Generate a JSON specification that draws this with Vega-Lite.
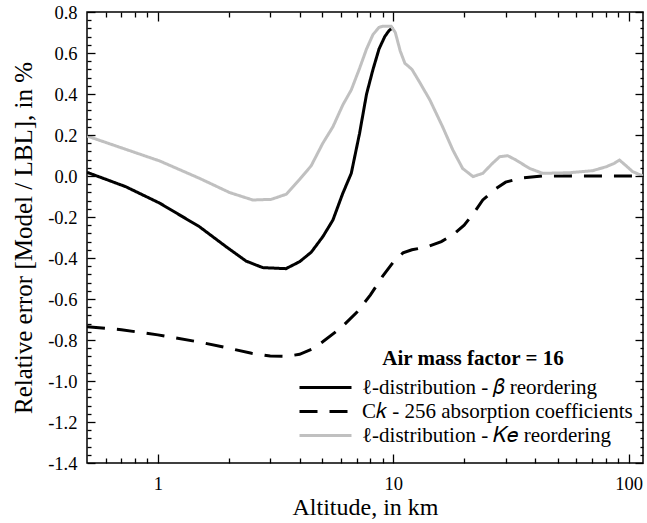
{
  "$schema": "https://vega.github.io/schema/vega-lite/v6.json",
  "width": 556,
  "height": 451,
  "autosize": {"type": "none"},
  "padding": {"left": 87, "top": 12, "right": 4, "bottom": 60},
  "background": "white",
  "config": {
    "font": "Liberation Serif",
    "view": {"stroke": "black", "strokeWidth": 1.5, "fill": "transparent"},
    "axis": {
      "domain": false, "grid": false, "tickColor": "black", "tickWidth": 1.3, "tickOpacity": 1,
      "labelColor": "black", "titleColor": "black", "labelFont": "Liberation Serif", "titleFont": "Liberation Serif",
      "titleFontWeight": "normal", "labelFontSize": 18.5, "titleFontSize": 24,
      "labelOverlap": false, "labelFlush": false
    }
  },
  "data": {"values": [
    {"series": "ℓ-distribution - 𝛽 reordering", "alt": 0.5, "err": 0.018},
    {"series": "ℓ-distribution - 𝛽 reordering", "alt": 0.73, "err": -0.052},
    {"series": "ℓ-distribution - 𝛽 reordering", "alt": 1.02, "err": -0.133},
    {"series": "ℓ-distribution - 𝛽 reordering", "alt": 1.5, "err": -0.247},
    {"series": "ℓ-distribution - 𝛽 reordering", "alt": 1.95, "err": -0.345},
    {"series": "ℓ-distribution - 𝛽 reordering", "alt": 2.37, "err": -0.415},
    {"series": "ℓ-distribution - 𝛽 reordering", "alt": 2.79, "err": -0.447},
    {"series": "ℓ-distribution - 𝛽 reordering", "alt": 3.5, "err": -0.452},
    {"series": "ℓ-distribution - 𝛽 reordering", "alt": 4.0, "err": -0.418},
    {"series": "ℓ-distribution - 𝛽 reordering", "alt": 4.48, "err": -0.372},
    {"series": "ℓ-distribution - 𝛽 reordering", "alt": 5.02, "err": -0.296},
    {"series": "ℓ-distribution - 𝛽 reordering", "alt": 5.54, "err": -0.215},
    {"series": "ℓ-distribution - 𝛽 reordering", "alt": 6.1, "err": -0.085},
    {"series": "ℓ-distribution - 𝛽 reordering", "alt": 6.63, "err": 0.013},
    {"series": "ℓ-distribution - 𝛽 reordering", "alt": 7.19, "err": 0.208},
    {"series": "ℓ-distribution - 𝛽 reordering", "alt": 7.7, "err": 0.4},
    {"series": "ℓ-distribution - 𝛽 reordering", "alt": 8.2, "err": 0.52},
    {"series": "ℓ-distribution - 𝛽 reordering", "alt": 8.7, "err": 0.62},
    {"series": "ℓ-distribution - 𝛽 reordering", "alt": 9.2, "err": 0.68},
    {"series": "ℓ-distribution - 𝛽 reordering", "alt": 9.6, "err": 0.71},
    {"series": "ℓ-distribution - 𝛽 reordering", "alt": 10.0, "err": 0.725},
    {"series": "C𝑘 - 256 absorption coefficients", "alt": 0.5, "err": -0.735},
    {"series": "C𝑘 - 256 absorption coefficients", "alt": 0.7, "err": -0.75},
    {"series": "C𝑘 - 256 absorption coefficients", "alt": 1.0, "err": -0.775},
    {"series": "C𝑘 - 256 absorption coefficients", "alt": 1.5, "err": -0.81},
    {"series": "C𝑘 - 256 absorption coefficients", "alt": 2.0, "err": -0.84},
    {"series": "C𝑘 - 256 absorption coefficients", "alt": 2.5, "err": -0.865},
    {"series": "C𝑘 - 256 absorption coefficients", "alt": 3.0, "err": -0.878},
    {"series": "C𝑘 - 256 absorption coefficients", "alt": 3.5, "err": -0.88},
    {"series": "C𝑘 - 256 absorption coefficients", "alt": 4.0, "err": -0.87},
    {"series": "C𝑘 - 256 absorption coefficients", "alt": 4.5, "err": -0.845},
    {"series": "C𝑘 - 256 absorption coefficients", "alt": 5.0, "err": -0.81},
    {"series": "C𝑘 - 256 absorption coefficients", "alt": 6.0, "err": -0.74},
    {"series": "C𝑘 - 256 absorption coefficients", "alt": 7.0, "err": -0.665},
    {"series": "C𝑘 - 256 absorption coefficients", "alt": 8.0, "err": -0.58},
    {"series": "C𝑘 - 256 absorption coefficients", "alt": 9.0, "err": -0.49},
    {"series": "C𝑘 - 256 absorption coefficients", "alt": 10.0, "err": -0.42},
    {"series": "C𝑘 - 256 absorption coefficients", "alt": 11.0, "err": -0.375},
    {"series": "C𝑘 - 256 absorption coefficients", "alt": 12.0, "err": -0.36},
    {"series": "C𝑘 - 256 absorption coefficients", "alt": 14.0, "err": -0.345},
    {"series": "C𝑘 - 256 absorption coefficients", "alt": 16.0, "err": -0.32},
    {"series": "C𝑘 - 256 absorption coefficients", "alt": 18.0, "err": -0.285},
    {"series": "C𝑘 - 256 absorption coefficients", "alt": 20.0, "err": -0.24},
    {"series": "C𝑘 - 256 absorption coefficients", "alt": 22.0, "err": -0.18},
    {"series": "C𝑘 - 256 absorption coefficients", "alt": 24.0, "err": -0.117},
    {"series": "C𝑘 - 256 absorption coefficients", "alt": 27.0, "err": -0.065},
    {"series": "C𝑘 - 256 absorption coefficients", "alt": 30.0, "err": -0.03},
    {"series": "C𝑘 - 256 absorption coefficients", "alt": 35.0, "err": -0.01},
    {"series": "C𝑘 - 256 absorption coefficients", "alt": 43.0, "err": 0.0},
    {"series": "C𝑘 - 256 absorption coefficients", "alt": 60.0, "err": 0.0},
    {"series": "C𝑘 - 256 absorption coefficients", "alt": 115.0, "err": 0.0},
    {"series": "ℓ-distribution - 𝐾𝑒 reordering", "alt": 0.5, "err": 0.195},
    {"series": "ℓ-distribution - 𝐾𝑒 reordering", "alt": 1.02, "err": 0.073},
    {"series": "ℓ-distribution - 𝐾𝑒 reordering", "alt": 1.5, "err": -0.011},
    {"series": "ℓ-distribution - 𝐾𝑒 reordering", "alt": 2.02, "err": -0.081},
    {"series": "ℓ-distribution - 𝐾𝑒 reordering", "alt": 2.53, "err": -0.117},
    {"series": "ℓ-distribution - 𝐾𝑒 reordering", "alt": 3.03, "err": -0.114},
    {"series": "ℓ-distribution - 𝐾𝑒 reordering", "alt": 3.51, "err": -0.089},
    {"series": "ℓ-distribution - 𝐾𝑒 reordering", "alt": 4.0, "err": -0.017},
    {"series": "ℓ-distribution - 𝐾𝑒 reordering", "alt": 4.48, "err": 0.05},
    {"series": "ℓ-distribution - 𝐾𝑒 reordering", "alt": 5.02, "err": 0.16},
    {"series": "ℓ-distribution - 𝐾𝑒 reordering", "alt": 5.54, "err": 0.24},
    {"series": "ℓ-distribution - 𝐾𝑒 reordering", "alt": 6.1, "err": 0.346},
    {"series": "ℓ-distribution - 𝐾𝑒 reordering", "alt": 6.63, "err": 0.42},
    {"series": "ℓ-distribution - 𝐾𝑒 reordering", "alt": 7.19, "err": 0.525},
    {"series": "ℓ-distribution - 𝐾𝑒 reordering", "alt": 7.7, "err": 0.62},
    {"series": "ℓ-distribution - 𝐾𝑒 reordering", "alt": 8.2, "err": 0.69},
    {"series": "ℓ-distribution - 𝐾𝑒 reordering", "alt": 8.7, "err": 0.725},
    {"series": "ℓ-distribution - 𝐾𝑒 reordering", "alt": 9.0, "err": 0.73},
    {"series": "ℓ-distribution - 𝐾𝑒 reordering", "alt": 9.8, "err": 0.73},
    {"series": "ℓ-distribution - 𝐾𝑒 reordering", "alt": 10.2, "err": 0.7},
    {"series": "ℓ-distribution - 𝐾𝑒 reordering", "alt": 10.7, "err": 0.61},
    {"series": "ℓ-distribution - 𝐾𝑒 reordering", "alt": 11.2, "err": 0.55},
    {"series": "ℓ-distribution - 𝐾𝑒 reordering", "alt": 12.0, "err": 0.52},
    {"series": "ℓ-distribution - 𝐾𝑒 reordering", "alt": 12.9, "err": 0.46},
    {"series": "ℓ-distribution - 𝐾𝑒 reordering", "alt": 14.3, "err": 0.371},
    {"series": "ℓ-distribution - 𝐾𝑒 reordering", "alt": 16.2, "err": 0.24},
    {"series": "ℓ-distribution - 𝐾𝑒 reordering", "alt": 17.9, "err": 0.127},
    {"series": "ℓ-distribution - 𝐾𝑒 reordering", "alt": 19.7, "err": 0.037},
    {"series": "ℓ-distribution - 𝐾𝑒 reordering", "alt": 21.8, "err": -0.003},
    {"series": "ℓ-distribution - 𝐾𝑒 reordering", "alt": 24.0, "err": 0.013},
    {"series": "ℓ-distribution - 𝐾𝑒 reordering", "alt": 26.4, "err": 0.062},
    {"series": "ℓ-distribution - 𝐾𝑒 reordering", "alt": 28.3, "err": 0.094},
    {"series": "ℓ-distribution - 𝐾𝑒 reordering", "alt": 30.6, "err": 0.099},
    {"series": "ℓ-distribution - 𝐾𝑒 reordering", "alt": 33.2, "err": 0.078},
    {"series": "ℓ-distribution - 𝐾𝑒 reordering", "alt": 37.9, "err": 0.037},
    {"series": "ℓ-distribution - 𝐾𝑒 reordering", "alt": 43.1, "err": 0.013},
    {"series": "ℓ-distribution - 𝐾𝑒 reordering", "alt": 56.0, "err": 0.016},
    {"series": "ℓ-distribution - 𝐾𝑒 reordering", "alt": 70.3, "err": 0.026},
    {"series": "ℓ-distribution - 𝐾𝑒 reordering", "alt": 80.2, "err": 0.045},
    {"series": "ℓ-distribution - 𝐾𝑒 reordering", "alt": 86.9, "err": 0.062},
    {"series": "ℓ-distribution - 𝐾𝑒 reordering", "alt": 91.3, "err": 0.078},
    {"series": "ℓ-distribution - 𝐾𝑒 reordering", "alt": 95.9, "err": 0.057},
    {"series": "ℓ-distribution - 𝐾𝑒 reordering", "alt": 104.0, "err": 0.021},
    {"series": "ℓ-distribution - 𝐾𝑒 reordering", "alt": 115.0, "err": 0.0}
  ]},
  "layer": [
    {
      "mark": {"type": "line", "strokeWidth": 3, "clip": true},
      "encoding": {
        "x": {"field": "alt", "type": "quantitative",
          "scale": {"type": "log", "domain": [0.5, 115], "nice": false},
          "axis": {"orient": "bottom", "title": "Altitude, in km", "values": [1, 10, 100], "format": "d",
            "ticks": true, "tickSize": -9, "tickColor": "black", "tickWidth": 1.3, "tickOpacity": 1, "zindex": 1,
            "labelPadding": 20, "titlePadding": 3}},
        "y": {"field": "err", "type": "quantitative",
          "scale": {"domain": [-1.4, 0.8], "nice": false, "zero": false},
          "axis": {"orient": "left", "title": "Relative error [Model / LBL], in %", "titleFontSize": 25,
            "values": [-1.4, -1.2, -1.0, -0.8, -0.6, -0.4, -0.2, 0, 0.2, 0.4, 0.6, 0.8],
            "labelExpr": "(datum.value < -0.000001 ? '-' : '') + format(abs(datum.value), '.1f')",
            "ticks": true, "tickSize": -8, "tickColor": "black", "tickWidth": 1.3, "tickOpacity": 1, "zindex": 1,
            "labelPadding": 18, "titlePadding": 11}},
        "color": {"field": "series", "type": "nominal",
          "scale": {"domain": ["ℓ-distribution - 𝛽 reordering", "C𝑘 - 256 absorption coefficients", "ℓ-distribution - 𝐾𝑒 reordering"], "range": ["#000000", "#000000", "#c0c0c0"]},
          "legend": {"title": "Air mass factor = 16", "orient": "none", "legendX": 227, "legendY": 336, "padding": 0,
            "symbolType": "M-2.6,0H2.6", "symbolSize": 400, "symbolStrokeWidth": 3,
            "labelFontSize": 21, "titleFontSize": 21, "titleFontWeight": "bold", "titleAnchor": "middle",
            "labelFont": "Liberation Serif", "titleFont": "Liberation Serif", "labelColor": "black", "titleColor": "black",
            "labelOffset": 25, "rowPadding": 2, "titlePadding": 7, "labelLimit": 400, "titleLimit": 400}},
        "strokeDash": {"field": "series", "type": "nominal",
          "scale": {"domain": ["ℓ-distribution - 𝛽 reordering", "C𝑘 - 256 absorption coefficients", "ℓ-distribution - 𝐾𝑒 reordering"], "range": [[1, 0], [18, 12], [1, 0]]},
          "legend": {"title": "Air mass factor = 16", "orient": "none", "legendX": 227, "legendY": 336, "padding": 0,
            "symbolType": "M-2.6,0H2.6", "symbolSize": 400, "symbolStrokeWidth": 3,
            "labelFontSize": 21, "titleFontSize": 21, "titleFontWeight": "bold", "titleAnchor": "middle",
            "labelFont": "Liberation Serif", "titleFont": "Liberation Serif", "labelColor": "black", "titleColor": "black",
            "labelOffset": 25, "rowPadding": 2, "titlePadding": 7, "labelLimit": 400, "titleLimit": 400}}
      }
    },
    {
      "mark": {"type": "point", "opacity": 0},
      "encoding": {
        "x": {"field": "alt", "type": "quantitative",
          "scale": {"type": "log", "domain": [0.5, 115], "nice": false},
          "axis": {"orient": "bottom", "title": null, "labels": false,
            "ticks": true, "tickSize": -5, "tickColor": "black", "tickWidth": 1.3, "tickOpacity": 1, "zindex": 1,
            "values": [0.6, 0.7, 0.8, 0.9, 2, 3, 4, 5, 6, 7, 8, 9, 20, 30, 40, 50, 60, 70, 80, 90]}},
        "y": {"field": "err", "type": "quantitative",
          "scale": {"domain": [-1.4, 0.8], "nice": false, "zero": false},
          "axis": {"orient": "left", "title": null, "labels": false,
            "ticks": true, "tickSize": -4, "tickColor": "black", "tickWidth": 1.3, "tickOpacity": 1, "zindex": 1,
            "values": [-1.36,-1.32,-1.28,-1.24,-1.16,-1.12,-1.08,-1.04,-0.96,-0.92,-0.88,-0.84,-0.76,-0.72,-0.68,-0.64,-0.56,-0.52,-0.48,-0.44,-0.36,-0.32,-0.28,-0.24,-0.16,-0.12,-0.08,-0.04,0.04,0.08,0.12,0.16,0.24,0.28,0.32,0.36,0.44,0.48,0.52,0.56,0.64,0.68,0.72,0.76]}}
      }
    },
    {
      "mark": {"type": "point", "opacity": 0},
      "encoding": {
        "x": {"field": "alt", "type": "quantitative",
          "scale": {"type": "log", "domain": [0.5, 115], "nice": false},
          "axis": {"orient": "top", "title": null, "labels": false,
            "ticks": true, "tickSize": -9, "tickColor": "black", "tickWidth": 1.3, "tickOpacity": 1, "zindex": 1,
            "values": [1, 10, 100]}},
        "y": {"field": "err", "type": "quantitative",
          "scale": {"domain": [-1.4, 0.8], "nice": false, "zero": false},
          "axis": {"orient": "right", "title": null, "labels": false,
            "ticks": true, "tickSize": -8, "tickColor": "black", "tickWidth": 1.3, "tickOpacity": 1, "zindex": 1,
            "values": [-1.4, -1.2, -1.0, -0.8, -0.6, -0.4, -0.2, 0, 0.2, 0.4, 0.6, 0.8]}}
      }
    },
    {
      "mark": {"type": "point", "opacity": 0},
      "encoding": {
        "x": {"field": "alt", "type": "quantitative",
          "scale": {"type": "log", "domain": [0.5, 115], "nice": false},
          "axis": {"orient": "top", "title": null, "labels": false,
            "ticks": true, "tickSize": -5, "tickColor": "black", "tickWidth": 1.3, "tickOpacity": 1, "zindex": 1,
            "values": [0.6, 0.7, 0.8, 0.9, 2, 3, 4, 5, 6, 7, 8, 9, 20, 30, 40, 50, 60, 70, 80, 90]}},
        "y": {"field": "err", "type": "quantitative",
          "scale": {"domain": [-1.4, 0.8], "nice": false, "zero": false},
          "axis": {"orient": "right", "title": null, "labels": false,
            "ticks": true, "tickSize": -3, "tickColor": "black", "tickWidth": 1.3, "tickOpacity": 1, "zindex": 1,
            "values": [-1.36,-1.32,-1.28,-1.24,-1.16,-1.12,-1.08,-1.04,-0.96,-0.92,-0.88,-0.84,-0.76,-0.72,-0.68,-0.64,-0.56,-0.52,-0.48,-0.44,-0.36,-0.32,-0.28,-0.24,-0.16,-0.12,-0.08,-0.04,0.04,0.08,0.12,0.16,0.24,0.28,0.32,0.36,0.44,0.48,0.52,0.56,0.64,0.68,0.72,0.76]}}
      }
    }
  ],
  "resolve": {"axis": {"x": "independent", "y": "independent"}}
}
